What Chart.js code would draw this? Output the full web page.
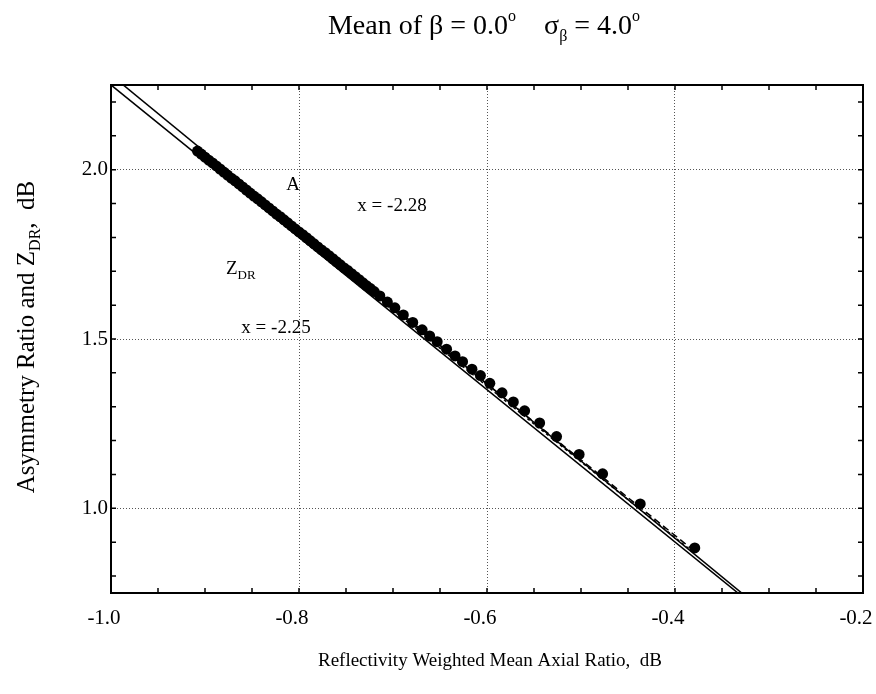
<!DOCTYPE html>
<html>
<head>
<meta charset="utf-8">
<script src="https://cdn.jsdelivr.net/npm/chart.js@4.4.1/dist/chart.umd.min.js"></script>
<style>
  html, body { margin: 0; padding: 0; background: #fff; }
  #wrap { width: 876px; height: 694px; position: relative; }
</style>
</head>
<body>
<div id="wrap"><canvas id="axialChart"></canvas></div>
<script>
// Asymmetry ratio A and Z_DR against reflectivity weighted mean axial ratio
// (mean beta = 0.0 deg, sigma beta = 4.0 deg)

// ---- data ----
var xTickLabels = [-1.0, -0.8, -0.6, -0.4, -0.2];
var yTickLabels = [1.0, 1.5, 2.0];

// fitted lines (solid), end points at the frame
var fitAX = [-0.987, -0.329];
var fitAY = [2.25, 0.75];
var fitZdrX = [-1.0, -0.333];
var fitZdrY = [2.25, 0.75];

// computed curves (dashed)
var dashAX = [-0.905, -0.379];
var dashAY = [2.048, 0.873];
var dashZdrX = [-0.905, -0.379];
var dashZdrY = [2.043, 0.867];

// computed points (filled circles)
var ptX = [-0.908, -0.904, -0.900, -0.896, -0.892, -0.888, -0.884, -0.880, -0.876, -0.872,
           -0.868, -0.864, -0.860, -0.856, -0.852, -0.848, -0.844, -0.840, -0.836, -0.832,
           -0.828, -0.824, -0.820, -0.816, -0.812, -0.808, -0.804, -0.800, -0.796, -0.792,
           -0.788, -0.784, -0.780, -0.776, -0.772, -0.768, -0.764, -0.760, -0.756, -0.752,
           -0.748, -0.744, -0.740, -0.736, -0.732, -0.728, -0.724, -0.720,
           -0.714, -0.706, -0.698, -0.689, -0.679, -0.669, -0.661, -0.653, -0.643, -0.634,
           -0.626, -0.616, -0.607, -0.597, -0.584, -0.572, -0.560, -0.544, -0.526, -0.502,
           -0.477, -0.437, -0.379];
var ptY = [2.055, 2.046, 2.037, 2.028, 2.020, 2.011, 2.002, 1.993, 1.984, 1.975,
           1.967, 1.958, 1.949, 1.940, 1.931, 1.922, 1.914, 1.905, 1.896, 1.887,
           1.878, 1.869, 1.861, 1.852, 1.843, 1.834, 1.825, 1.816, 1.808, 1.799,
           1.790, 1.781, 1.772, 1.763, 1.755, 1.746, 1.737, 1.728, 1.719, 1.710,
           1.702, 1.693, 1.684, 1.675, 1.666, 1.657, 1.649, 1.640,
           1.627, 1.609, 1.592, 1.571, 1.549, 1.527, 1.509, 1.492, 1.470, 1.450,
           1.433, 1.411, 1.392, 1.369, 1.341, 1.314, 1.288, 1.252, 1.212, 1.159,
           1.102, 1.013, 0.883];

function pairs(xs, ys) {
  return xs.map(function (x, i) { return { x: x, y: ys[i] }; });
}

function isMajor(v, list) {
  return list.some(function (t) { return Math.abs(t - v) < 1e-6; });
}

function onStep(v, step) {
  return Math.abs(v / step - Math.round(v / step)) < 1e-6;
}

var SERIF = "'Liberation Serif', 'DejaVu Serif', serif";

// draws a run of text pieces (with sub/superscripts) on baseline y
function drawRich(ctx, parts, x, y, align) {
  var total = 0;
  parts.forEach(function (p) {
    ctx.font = p.size + 'px ' + SERIF;
    p.w = ctx.measureText(p.t).width;
    total += p.w;
  });
  var cx = align === 'center' ? x - total / 2 : x;
  ctx.textAlign = 'left';
  ctx.textBaseline = 'alphabetic';
  parts.forEach(function (p) {
    ctx.font = p.size + 'px ' + SERIF;
    ctx.fillText(p.t, cx, y + (p.dy || 0));
    cx += p.w;
  });
}

var decorations = {
  id: 'decorations',
  afterDraw: function (chart) {
    var ctx = chart.ctx;
    var a = chart.chartArea;
    var xs = chart.scales.x;
    var ys = chart.scales.y;
    ctx.save();
    ctx.strokeStyle = '#000';
    ctx.fillStyle = '#000';

    // inward tick marks on all four sides
    ctx.lineWidth = 1.5;
    ctx.beginPath();
    xs.ticks.forEach(function (t) {
      if (!onStep(t.value, 0.05)) return;
      var px = xs.getPixelForValue(t.value);
      ctx.moveTo(px, a.bottom); ctx.lineTo(px, a.bottom - 5);
      ctx.moveTo(px, a.top); ctx.lineTo(px, a.top + 5);
    });
    ys.ticks.forEach(function (t) {
      if (!onStep(t.value, 0.1)) return;
      var py = ys.getPixelForValue(t.value);
      ctx.moveTo(a.left, py); ctx.lineTo(a.left + 5, py);
      ctx.moveTo(a.right, py); ctx.lineTo(a.right - 5, py);
    });
    ctx.stroke();

    // frame
    ctx.lineWidth = 2;
    ctx.strokeRect(a.left, a.top, a.right - a.left, a.bottom - a.top);

    // title
    drawRich(ctx, [
      { t: 'Mean of \u03b2 = 0.0', size: 28 },
      { t: 'o', size: 16, dy: -13 },
      { t: '    \u03c3', size: 28 },
      { t: '\u03b2', size: 16, dy: 7 },
      { t: ' = 4.0', size: 28 },
      { t: 'o', size: 16, dy: -13 }
    ], 484, 34, 'center');

    // x axis title
    drawRich(ctx, [{ t: 'Reflectivity Weighted Mean Axial Ratio,  dB', size: 19 }], 490, 666, 'center');

    // y axis title (rotated)
    ctx.save();
    ctx.translate(34, 337);
    ctx.rotate(-Math.PI / 2);
    drawRich(ctx, [
      { t: 'Asymmetry Ratio and Z', size: 25 },
      { t: 'DR', size: 16, dy: 6 },
      { t: ',  dB', size: 25 }
    ], 0, 0, 'center');
    ctx.restore();

    // annotations in the plot
    drawRich(ctx, [{ t: 'A', size: 19 }], 293, 190, 'center');
    drawRich(ctx, [{ t: 'x = -2.28', size: 19 }], 392, 211, 'center');
    drawRich(ctx, [
      { t: 'Z', size: 19 },
      { t: 'DR', size: 13, dy: 5 }
    ], 226, 274, 'left');
    drawRich(ctx, [{ t: 'x = -2.25', size: 19 }], 276, 333, 'center');

    ctx.restore();
  }
};

function gridScale(min, max, step, majors, fitProp, fitSize, pad, offset) {
  return {
    type: 'linear',
    min: min,
    max: max,
    afterFit: function (s) {
      s[fitProp] = fitSize;
      s.paddingLeft = 0;
      s.paddingRight = 0;
      s.paddingTop = 0;
      s.paddingBottom = 0;
    },
    border: { display: false, dash: [1, 2] },
    grid: {
      drawTicks: false,
      lineWidth: 1,
      color: function (c) {
        return c.tick && isMajor(c.tick.value, majors) ? '#555' : 'rgba(0,0,0,0)';
      }
    },
    ticks: {
      stepSize: step,
      autoSkip: false,
      maxRotation: 0,
      padding: pad,
      labelOffset: offset,
      color: '#000',
      font: { family: SERIF, size: 21 },
      callback: function (v) { return isMajor(v, majors) ? v.toFixed(1) : ''; }
    }
  };
}

new Chart(document.getElementById('axialChart'), {
  type: 'scatter',
  data: {
    datasets: [
      {
        label: 'computed',
        data: pairs(ptX, ptY),
        showLine: false,
        pointRadius: 5.5,
        pointBackgroundColor: '#000',
        pointBorderColor: '#000',
        pointBorderWidth: 0,
        order: 0
      },
      {
        label: 'A computed',
        data: pairs(dashAX, dashAY),
        showLine: true,
        borderColor: '#000',
        borderWidth: 1.5,
        borderDash: [7, 4],
        pointRadius: 0,
        order: 1
      },
      {
        label: 'Zdr computed',
        data: pairs(dashZdrX, dashZdrY),
        showLine: true,
        borderColor: '#000',
        borderWidth: 1.5,
        borderDash: [3, 3],
        pointRadius: 0,
        order: 2
      },
      {
        label: 'A fit',
        data: pairs(fitAX, fitAY),
        showLine: true,
        borderColor: '#000',
        borderWidth: 1.6,
        pointRadius: 0,
        order: 3
      },
      {
        label: 'Zdr fit',
        data: pairs(fitZdrX, fitZdrY),
        showLine: true,
        borderColor: '#000',
        borderWidth: 1.6,
        pointRadius: 0,
        order: 4
      }
    ]
  },
  options: {
    responsive: true,
    maintainAspectRatio: false,
    animation: false,
    layout: { padding: { top: 85, right: 13, bottom: 0, left: 0 } },
    plugins: {
      legend: { display: false },
      tooltip: { enabled: false }
    },
    scales: {
      x: gridScale(-1.0, -0.2, 0.05, xTickLabels, 'height', 101, 13, -7),
      y: gridScale(0.75, 2.25, 0.05, yTickLabels, 'width', 111, 3, 0)
    }
  },
  plugins: [decorations]
});
</script>
</body>
</html>
